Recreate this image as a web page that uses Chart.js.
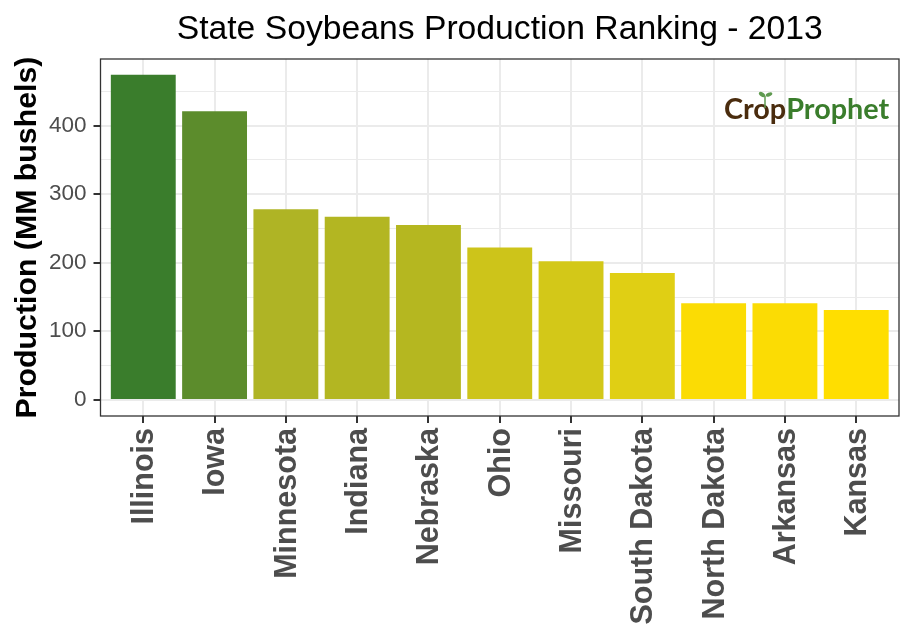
<!DOCTYPE html>
<html>
<head>
<meta charset="utf-8">
<title>State Soybeans Production Ranking - 2013</title>
<script src="https://cdn.jsdelivr.net/npm/chart.js@4"></script>
<style>
  html, body { margin: 0; padding: 0; background: #fff; }
  canvas { display: block; }
</style>
</head>
<body>
<canvas id="rankChart" width="914" height="640"></canvas>
<script>
const states = ["Illinois", "Iowa", "Minnesota", "Indiana", "Nebraska", "Ohio", "Missouri", "South Dakota", "North Dakota", "Arkansas", "Kansas"];
const production = [474, 421, 278, 267, 255, 222, 202, 185, 141, 141, 131];
const majorTicks = [0, 100, 200, 300, 400];
const minorTicks = [50, 150, 250, 350, 450];
const barColors = ["#3a7d2c", "#5c8c2c", "#afb425", "#b3b622", "#b5b720", "#cdc41a", "#d3c818", "#e0cf14", "#fbdc04", "#fbdc04", "#ffde00"];
const chartTitle = "State Soybeans Production Ranking - 2013";

const FONT = '"Liberation Sans", Arial, sans-serif';

/* title centred on the panel, not on the canvas */
const panelTitle = {
  id: "panelTitle",
  afterDraw(chart) {
    const { ctx, chartArea: a } = chart;
    ctx.save();
    ctx.font = "33.7px " + FONT;
    ctx.fillStyle = "#000000";
    ctx.textAlign = "center";
    ctx.textBaseline = "alphabetic";
    ctx.fillText(chartTitle, (a.left + a.right) / 2, 39);
    ctx.restore();
  },
};

/* frame around the panel, on top of the bars */
const panelBorder = {
  id: "panelBorder",
  afterDatasetsDraw(chart) {
    const { ctx, chartArea: a } = chart;
    ctx.save();
    ctx.strokeStyle = "#333333";
    ctx.lineWidth = 1.3;
    ctx.strokeRect(a.left, a.top, a.right - a.left, a.bottom - a.top);
    ctx.restore();
  },
};

/* CropProphet logo */
const logo = {
  id: "logo",
  afterDraw(chart) {
    const ctx = chart.ctx;
    ctx.save();
    ctx.font = 'bold 28.8px Lato, "Noto Sans", sans-serif';
    ctx.textBaseline = "alphabetic";
    ctx.fillStyle = "#4a2c0e";
    ctx.fillText("Crop", 724, 119);
    const w = ctx.measureText("Crop").width;
    ctx.fillStyle = "#3a7d2c";
    ctx.fillText("Prophet", 724 + w, 119);
    // sprout
    ctx.strokeStyle = "#5f9a50";
    ctx.lineWidth = 1.5;
    ctx.beginPath();
    ctx.moveTo(765, 108);
    ctx.lineTo(765, 96);
    ctx.stroke();
    ctx.fillStyle = "#5f9a50";
    ctx.beginPath();
    ctx.ellipse(762, 94.5, 3.5, 2, 0.6, 0, Math.PI * 2);
    ctx.ellipse(769, 94.5, 3.5, 1.8, -0.4, 0, Math.PI * 2);
    ctx.fill();
    ctx.restore();
  },
};

new Chart(document.getElementById("rankChart"), {
  type: "bar",
  data: {
    datasets: [
      {
        data: production.map((v, i) => ({ x: i + 1, y: v })),
        backgroundColor: barColors,
        borderWidth: 0,
        barPercentage: 0.91,
        categoryPercentage: 1,
      },
    ],
  },
  options: {
    responsive: false,
    animation: false,
    layout: { padding: { top: 59, right: 15, bottom: 0, left: 0 } },
    plugins: {
      legend: { display: false },
      tooltip: { enabled: false },
    },
    scales: {
      x: {
        type: "linear",
        min: 0.4,
        max: 11.6,
        offset: false,
        afterBuildTicks(scale) {
          scale.ticks = states.map((s, i) => ({ value: i + 1 }));
        },
        afterFit(scale) {
          scale.height = 224;
        },
        ticks: {
          autoSkip: false,
          minRotation: 90,
          maxRotation: 90,
          padding: 5,
          labelOffset: 1.5,
          color: "#4d4d4d",
          font: { family: FONT, size: 30.5, weight: "bold" },
          callback: (v) => states[v - 1],
        },
        grid: { offset: false, color: "#ebebeb", lineWidth: 2, tickColor: "#333333", tickWidth: 2, tickLength: 7 },
        border: { display: false },
      },
      y: {
        min: -23.5,
        max: 497,
        afterBuildTicks(scale) {
          scale.ticks = [...majorTicks, ...minorTicks].sort((a, b) => a - b).map((v) => ({ value: v }));
        },
        afterFit(scale) {
          scale.width = 100.5;
        },
        ticks: {
          autoSkip: false,
          padding: 7,
          color: "#4d4d4d",
          font: { family: FONT, size: 22.5 },
          callback: (v) => (majorTicks.includes(v) ? String(v) : ""),
        },
        grid: {
          color: "#ebebeb",
          lineWidth: (c) => (majorTicks.includes(c.tick.value) ? 2 : 1),
          tickColor: (c) => (majorTicks.includes(c.tick.value) ? "#333333" : "transparent"),
          tickWidth: (c) => (majorTicks.includes(c.tick.value) ? 2 : 0),
          tickLength: 7,
        },
        border: { display: false },
        title: {
          display: true,
          text: "Production (MM bushels)",
          color: "#000000",
          font: { family: FONT, size: 30.3, weight: "bold" },
          padding: { top: 9, bottom: 0 },
        },
      },
    },
  },
  plugins: [panelTitle, panelBorder, logo],
});
</script>
</body>
</html>
